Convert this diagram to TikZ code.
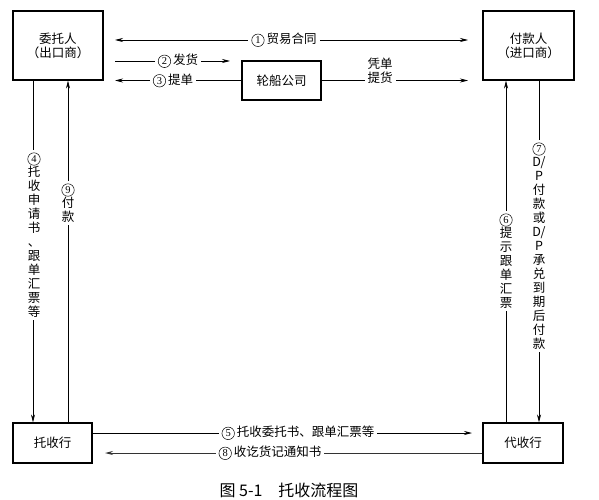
\documentclass[tikz,border=0pt]{standalone}
\usepackage{fontspec}
\setmainfont{Noto Sans CJK SC}
\newfontfamily\numfont{Liberation Serif}
\usetikzlibrary{arrows.meta}
\newcommand\cnum[1]{\tikz[baseline=(cn.base)]\node[circle,draw,line width=0.5pt,inner sep=0pt,minimum size=12.5pt,font=\numfont\fontsize{10.5}{10.5}\selectfont](cn){#1};}
\begin{document}
\begin{tikzpicture}[x=1pt,y=-1pt,
  box/.style={draw,line width=1.1pt,inner sep=0pt,align=center,font=\fontsize{12.5}{14}\selectfont},
  arr/.style={line width=0.7pt,-{Stealth[length=8pt,width=4pt]}},
  lab/.style={fill=white,inner xsep=3pt,inner ysep=1pt,font=\fontsize{12.5}{14}\selectfont},
  vlab/.style={fill=white,inner xsep=1pt,inner ysep=3pt,align=center,font=\fontsize{12.5}{14}\selectfont}]
\useasboundingbox (0,0) rectangle (599,500);
% boxes
\node[box,minimum width=90pt,minimum height=69pt] (wt) at (58,45.5) {委托人\\（出口商）};
\node[box,minimum width=91pt,minimum height=69pt] (fk) at (528.5,45.5) {付款人\\（进口商）};
\node[box,minimum width=79pt,minimum height=39pt] (lc) at (281.5,80.5) {轮船公司};
\node[box,minimum width=79pt,minimum height=40pt] (ts) at (52.5,443) {托收行};
\node[box,minimum width=80pt,minimum height=40pt] (ds) at (523,443) {代收行};
% free ends
\coordinate (c1l) at (115,40);
\coordinate (c1r) at (468,40);
\coordinate (c2l) at (115,61);
\coordinate (c2r) at (230,61);
\coordinate (c3l) at (115,80.5);
\coordinate (c4r) at (468,80.5);
\coordinate (c5r) at (472,433);
\coordinate (c8l) at (105,453);
% connectors
\draw[line width=0.7pt,{Stealth[length=8pt,width=4pt]}-{Stealth[length=8pt,width=4pt]}] (c1l) -- (c1r);
\draw[arr] (c2l) -- (c2r);
\draw[arr] (lc.west) -- (c3l);
\draw[arr] (lc.east) -- (c4r);
\draw[arr] (wt.south -| 33,0) -- (ts.north -| 33,0);
\draw[arr] (ts.north -| 68,0) -- (wt.south -| 68,0);
\draw[arr] (ds.north -| 506,0) -- (fk.south -| 506,0);
\draw[arr] (fk.south -| 539,0) -- (ds.north -| 539,0);
\draw[arr] (ts.east |- 0,433) -- (c5r);
\draw[arr,line width=1pt,black!80] (ds.west |- 0,453) -- (c8l);
% labels
\node[lab] (l1) at (284,40) {\cnum{1}\,贸易合同};
\node[lab] (l2) at (178,61) {\cnum{2}\,发货};
\node[lab] (l3) at (173,80.5) {\cnum{3}\,提单};
\node[lab,align=center,inner ysep=0pt] (l4) at (380,71) {凭单\\提货};
\node[lab] (l5) at (298,433) {\cnum{5}\,托收委托书、跟单汇票等};
\node[lab] (l8) at (270,453) {\cnum{8}\,收讫货记通知书};
\node[vlab] (v4) at (34,235) {\cnum{4}\\托\\收\\申\\请\\书\\、\\跟\\单\\汇\\票\\等};
\node[vlab] (v9) at (68,203) {\cnum{9}\\付\\款};
\node[vlab] (v6) at (506,261) {\cnum{6}\\提\\示\\跟\\单\\汇\\票};
\node[vlab] (v7) at (539,246) {\cnum{7}\\D/\\P\\付\\款\\或\\D/\\P\\承\\兑\\到\\期\\后\\付\\款};
\node[font=\fontsize{16}{18}\selectfont] (cap) at (289,490) {图 5-1\quad 托收流程图};
\end{tikzpicture}
\end{document}
